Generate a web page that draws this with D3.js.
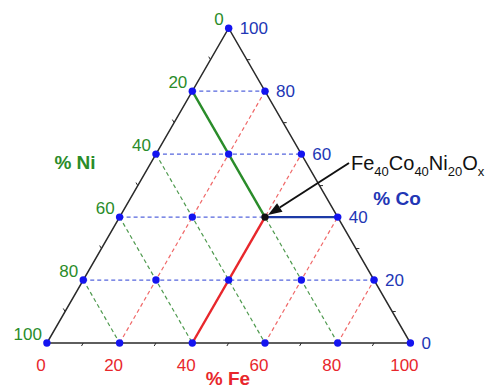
<!DOCTYPE html>
<html>
<head>
<meta charset="utf-8">
<script src="https://cdn.jsdelivr.net/npm/d3@7"></script>
<style>
  html, body { margin: 0; padding: 0; background: #fff; }
  svg { display: block; font-family: "Liberation Sans", Arial, Helvetica, sans-serif; }
</style>
</head>
<body>
<svg id="chart" width="488" height="390"></svg>
<script>
// Composition grid (atomic %)
const majorTicks = [0, 20, 40, 60, 80, 100];
const minorTicks = [10, 30, 50, 70, 90];
const gridLevels = [20, 40, 60, 80];

// Highlighted composition: Fe, Co, Ni
const sampleFe = 40;
const sampleCo = 40;
const sampleNi = 20;

// Annotation pieces: [text, isSubscript]
const formulaParts = [["Fe", false], ["40", true], ["Co", false], ["40", true],
                      ["Ni", false], ["20", true], ["O", false], ["x", true]];

const colors = {
  fe: "#e8272c", co: "#2236b5", ni: "#2a8c2a",
  feDash: "#f06868", coDash: "#5566dd", niDash: "#4f9a4f",
  coSolid: "#1c3aa6", dot: "#1414f0", edge: "#2a2a2a"
};

const svg = d3.select("#chart");
const H = Math.sqrt(3) / 2;

// Unit-triangle coordinates -> pixels
const xScale = d3.scaleLinear().domain([0, 1]).range([46.9, 410.4]);
const yScale = d3.scaleLinear().domain([0, H]).range([343, 28.2]);

// Ni at bottom-left, Fe at bottom-right, Co at top
function pt(fe, co, ni) {
  const s = fe + co + ni;
  const u = (fe + co / 2) / s;
  const v = (co * H) / s;
  return [xScale(u), yScale(v)];
}

const line = d3.line();

// Dashed iso-lines
const gDash = svg.append("g").attr("fill", "none").attr("stroke-width", 1.2)
  .attr("stroke-dasharray", "4,3");

// constant Co: horizontal, left edge to right edge
gDash.selectAll("path.co").data(gridLevels).join("path")
  .attr("class", "co").attr("stroke", colors.coDash)
  .attr("d", c => line([pt(0, c, 100 - c), pt(100 - c, c, 0)]));

// constant Ni: left edge to bottom edge
gDash.selectAll("path.ni").data(gridLevels).join("path")
  .attr("class", "ni").attr("stroke", colors.niDash)
  .attr("d", n => line([pt(0, 100 - n, n), pt(100 - n, 0, n)]));

// constant Fe: bottom edge to right edge
gDash.selectAll("path.fe").data(gridLevels).join("path")
  .attr("class", "fe").attr("stroke", colors.feDash)
  .attr("d", f => line([pt(f, 0, 100 - f), pt(f, 100 - f, 0)]));

// Solid guide lines to the highlighted composition
const P = pt(sampleFe, sampleCo, sampleNi);
const gSolid = svg.append("g").attr("fill", "none").attr("stroke-width", 2.4);
gSolid.append("path").attr("stroke", colors.ni)
  .attr("d", line([pt(0, 100 - sampleNi, sampleNi), P]));
gSolid.append("path").attr("stroke", colors.fe)
  .attr("d", line([pt(sampleFe, 0, 100 - sampleFe), P]));
gSolid.append("path").attr("stroke", colors.coSolid)
  .attr("d", line([P, pt(100 - sampleCo, sampleCo, 0)]));

// Triangle outline
svg.append("path")
  .attr("d", line([pt(0, 0, 100), pt(100, 0, 0), pt(0, 100, 0)]) + "Z")
  .attr("fill", "none").attr("stroke", colors.edge).attr("stroke-width", 1.5);

// Tick marks every 10 %, pointing outward along the iso-lines
const allTicks = d3.sort(majorTicks.concat(minorTicks));
const tl = 3.5;
const gTicks = svg.append("g").attr("stroke", colors.edge).attr("stroke-width", 1);
allTicks.forEach(v => {
  const b = pt(v, 0, 100 - v);                       // Fe axis
  gTicks.append("line").attr("x1", b[0]).attr("y1", b[1])
    .attr("x2", b[0] - 0.5 * tl).attr("y2", b[1] + H * tl);
  const r = pt(100 - v, v, 0);                       // Co axis
  gTicks.append("line").attr("x1", r[0]).attr("y1", r[1])
    .attr("x2", r[0] + tl).attr("y2", r[1]);
  const l = pt(0, 100 - v, v);                       // Ni axis
  gTicks.append("line").attr("x1", l[0]).attr("y1", l[1])
    .attr("x2", l[0] - 0.5 * tl).attr("y2", l[1] - H * tl);
});

// Lattice points at every 20 %
const lattice = [];
majorTicks.forEach(fe => majorTicks.forEach(co => {
  const ni = 100 - fe - co;
  if (ni >= 0) lattice.push([fe, co, ni]);
}));
svg.append("g").selectAll("circle").data(lattice).join("circle")
  .attr("cx", d => pt(...d)[0]).attr("cy", d => pt(...d)[1])
  .attr("r", 3.7)
  .attr("fill", d => (d[0] === sampleFe && d[1] === sampleCo) ? "#111" : colors.dot);

// Tick labels
const gLab = svg.append("g").attr("font-size", 17);
gLab.selectAll("text.fe").data(majorTicks).join("text")
  .attr("class", "fe").attr("fill", colors.fe).attr("text-anchor", "middle")
  .attr("x", v => pt(v, 0, 100 - v)[0] - 6).attr("y", v => pt(v, 0, 100 - v)[1] + 28)
  .text(v => v);
gLab.selectAll("text.co").data(majorTicks).join("text")
  .attr("class", "co").attr("fill", colors.co).attr("text-anchor", "start")
  .attr("x", v => pt(100 - v, v, 0)[0] + 11).attr("y", v => pt(100 - v, v, 0)[1] + 6)
  .text(v => v);
gLab.selectAll("text.ni").data(majorTicks).join("text")
  .attr("class", "ni").attr("fill", colors.ni).attr("text-anchor", "end")
  .attr("x", v => pt(0, 100 - v, v)[0] - 5).attr("y", v => pt(0, 100 - v, v)[1] - 3)
  .text(v => v);

// Axis titles
const gTitle = svg.append("g").attr("font-size", 19).attr("font-weight", "bold")
  .attr("text-anchor", "middle");
gTitle.append("text").attr("x", 75).attr("y", 169).attr("fill", colors.ni).text("% Ni");
gTitle.append("text").attr("x", 397).attr("y", 205).attr("fill", colors.co).text("% Co");
gTitle.append("text").attr("x", 228).attr("y", 385).attr("fill", colors.fe).text("% Fe");

// Formula annotation
const formula = svg.append("text").attr("x", 351).attr("y", 170)
  .attr("font-size", 20).attr("fill", "#111");
formulaParts.forEach(([t, sub], i) => {
  const prevSub = i > 0 && formulaParts[i - 1][1];
  formula.append("tspan")
    .attr("font-size", sub ? 13 : 20)
    .attr("dy", sub ? 6 : (prevSub ? -6 : 0))
    .text(t);
});

// Arrow to the composition point
const A0 = [349, 163];
const A1 = [P[0] + 3, P[1] - 2];
const ang = Math.atan2(A1[1] - A0[1], A1[0] - A0[0]);
const hl = 14, hw = 5;
const base = [A1[0] - hl * Math.cos(ang), A1[1] - hl * Math.sin(ang)];
svg.append("path").attr("d", line([A0, base]))
  .attr("stroke", "#111").attr("stroke-width", 2).attr("fill", "none");
svg.append("path")
  .attr("d", line([A1,
    [base[0] + hw * Math.sin(ang), base[1] - hw * Math.cos(ang)],
    [base[0] - hw * Math.sin(ang), base[1] + hw * Math.cos(ang)]]) + "Z")
  .attr("fill", "#111");
</script>
</body>
</html>
